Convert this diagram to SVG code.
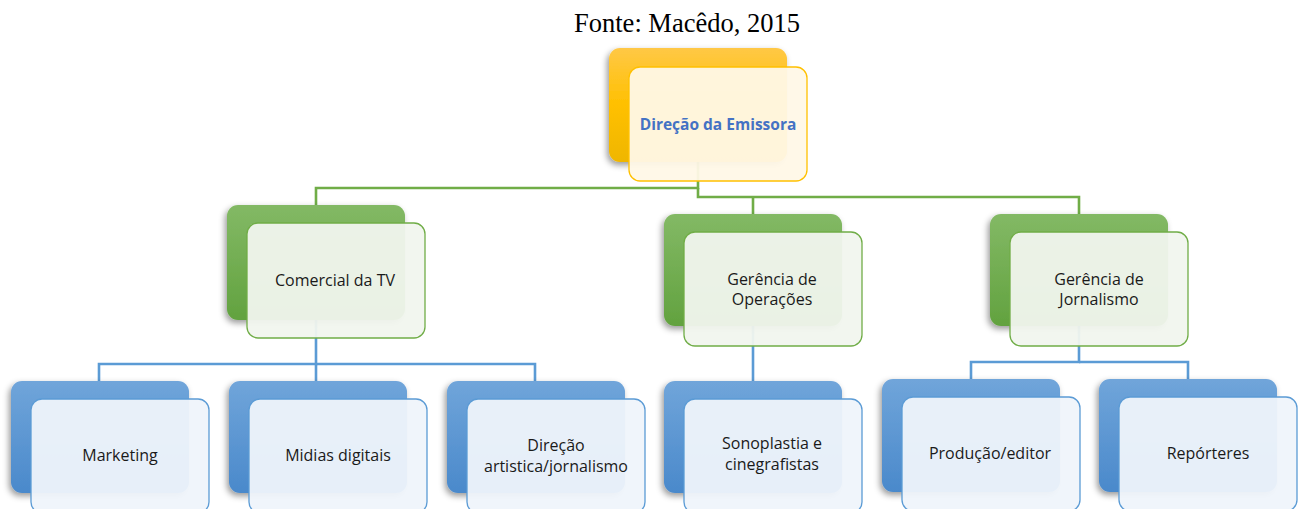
<svg xmlns="http://www.w3.org/2000/svg" width="1301" height="509" viewBox="0 0 1301 509">
<style>
.conn-g{fill:none;stroke:#70AD47;stroke-width:2.6}
.conn-b{fill:none;stroke:#5B9BD5;stroke-width:2.6}
.back{filter:url(#sh)}
.fg{fill:#F1F6EE;fill-opacity:0.95;stroke:#70AD47;stroke-width:1.3}
.fb{fill:#EFF4FB;fill-opacity:0.95;stroke:#5B9BD5;stroke-width:1.3}
.fy{fill:#FFF8E7;fill-opacity:0.95;stroke:#FFC000;stroke-width:1.3}
.t{font-family:"Open Sans","Noto Sans",sans-serif;font-size:16px;fill:#1a1a1a;text-anchor:middle}
.tb{font-family:"Open Sans","Noto Sans",sans-serif;font-size:15.5px;font-weight:bold;fill:#4472C4;text-anchor:middle}
.title{font-family:"Liberation Serif","Times New Roman",serif;font-size:26.5px;fill:#000;text-anchor:middle}
</style>
<defs>
<linearGradient id="gy" x1="0" y1="0" x2="0" y2="1"><stop offset="0" stop-color="#FFC846"/><stop offset="0.5" stop-color="#FFC000"/><stop offset="1" stop-color="#EFB600"/></linearGradient>
<linearGradient id="gg" x1="0" y1="0" x2="0" y2="1"><stop offset="0" stop-color="#83B965"/><stop offset="1" stop-color="#62A23F"/></linearGradient>
<linearGradient id="gb" x1="0" y1="0" x2="0" y2="1"><stop offset="0" stop-color="#70A5DA"/><stop offset="1" stop-color="#4A89CB"/></linearGradient>
<filter id="sh" x="-10%" y="-10%" width="120%" height="125%"><feDropShadow dx="-2" dy="3" stdDeviation="3" flood-color="#000" flood-opacity="0.4"/></filter>
</defs>
<rect width="1301" height="509" fill="#fff"/>
<text class="title" x="687" y="32">Fonte: Macêdo, 2015</text>

<g id="connectors">
<polyline class="conn-g" points="698,162 698,188 316,188 316,205"/>
<polyline class="conn-g" points="698,188 698,197 1079,197 1079,214"/>
<polyline class="conn-g" points="753,197 753,214"/>
<polyline class="conn-b" points="316,320 316,364 99,364 99,381"/>
<polyline class="conn-b" points="316,364 535,364 535,381"/>
<polyline class="conn-b" points="316,364 316,381"/>
<polyline class="conn-b" points="753,326 753,381"/>
<polyline class="conn-b" points="1079,326 1079,362 971,362 971,379"/>
<polyline class="conn-b" points="1079,362 1188,362 1188,379"/>
</g>

<g id="n-direcao">
<rect class="back" x="609" y="48" width="178" height="114" rx="11" fill="url(#gy)"/>
<rect class="fy" x="629" y="67" width="178" height="114" rx="11"/>
<text class="tb" x="718" y="130">Direção da Emissora</text>
</g>

<g id="n-comercial">
<rect class="back" x="227" y="205" width="178" height="115" rx="11" fill="url(#gg)"/>
<rect class="fg" x="247" y="223" width="178" height="115" rx="11"/>
<text class="t" x="335" y="286">Comercial da TV</text>
</g>

<g id="n-operacoes">
<rect class="back" x="664" y="214" width="178" height="112" rx="11" fill="url(#gg)"/>
<rect class="fg" x="684" y="232" width="178" height="114" rx="11"/>
<text class="t" x="772" y="285">Gerência de</text>
<text class="t" x="772" y="305">Operações</text>
</g>

<g id="n-jornalismo">
<rect class="back" x="990" y="214" width="178" height="112" rx="11" fill="url(#gg)"/>
<rect class="fg" x="1010" y="232" width="178" height="114" rx="11"/>
<text class="t" x="1099" y="285">Gerência de</text>
<text class="t" x="1099" y="305">Jornalismo</text>
</g>

<g id="n-marketing">
<rect class="back" x="11" y="381" width="178" height="112" rx="11" fill="url(#gb)"/>
<rect class="fb" x="31" y="399" width="178" height="114" rx="11"/>
<text class="t" x="120" y="461">Marketing</text>
</g>

<g id="n-midias">
<rect class="back" x="229" y="381" width="178" height="112" rx="11" fill="url(#gb)"/>
<rect class="fb" x="249" y="399" width="178" height="114" rx="11"/>
<text class="t" x="338" y="461">Midias digitais</text>
</g>

<g id="n-direcao-artistica">
<rect class="back" x="447" y="381" width="178" height="112" rx="11" fill="url(#gb)"/>
<rect class="fb" x="467" y="399" width="178" height="114" rx="11"/>
<text class="t" x="556" y="451">Direção</text>
<text class="t" x="556" y="472">artistica/jornalismo</text>
</g>

<g id="n-sonoplastia">
<rect class="back" x="664" y="381" width="178" height="112" rx="11" fill="url(#gb)"/>
<rect class="fb" x="684" y="399" width="178" height="114" rx="11"/>
<text class="t" x="772" y="449">Sonoplastia e</text>
<text class="t" x="772" y="470">cinegrafistas</text>
</g>

<g id="n-producao">
<rect class="back" x="882" y="379" width="178" height="113" rx="11" fill="url(#gb)"/>
<rect class="fb" x="902" y="397" width="178" height="114" rx="11"/>
<text class="t" x="990" y="459">Produção/editor</text>
</g>

<g id="n-reporteres">
<rect class="back" x="1099" y="379" width="178" height="113" rx="11" fill="url(#gb)"/>
<rect class="fb" x="1119" y="397" width="178" height="114" rx="11"/>
<text class="t" x="1208" y="459">Repórteres</text>
</g>
</svg>
